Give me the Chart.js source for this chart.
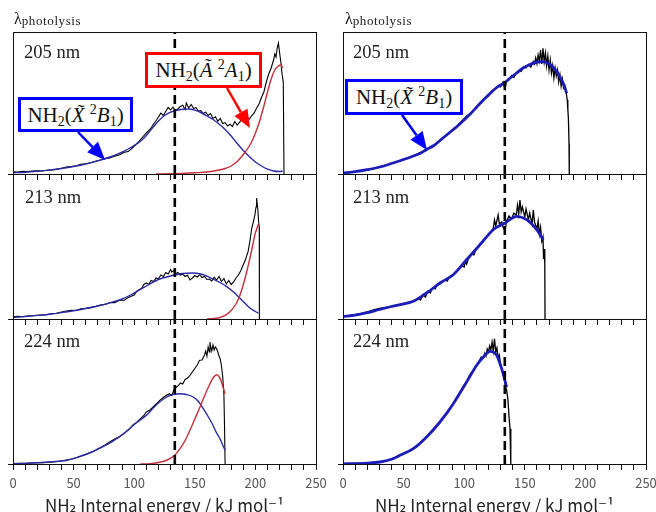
<!DOCTYPE html>
<html>
<head>
<meta charset="utf-8">
<script src="https://cdn.jsdelivr.net/npm/chart.js@4.4.1/dist/chart.umd.min.js"></script>
<style>
  html, body { margin: 0; padding: 0; background: #fff; }
  #page { position: relative; width: 656px; height: 512px; overflow: hidden; }
  canvas { position: absolute; }
  .lam { position: absolute; font-family: "Liberation Serif", serif; font-size: 16px; line-height: 20px; color: #222; }
  .lam span { font-size: 13px; letter-spacing: 0.6px; vertical-align: -1px; }
  .wl { position: absolute; font-family: "Liberation Serif", serif; font-size: 18.5px; line-height: 18.5px; color: #222; }
  .box { position: absolute; box-sizing: border-box; background: #fff; border: 3px solid; font-family: "Liberation Serif", serif;
         font-size: 21px; line-height: 26px; color: #111; text-align: center; white-space: nowrap; padding-top: 2px; }
  .box .lo, .box .hi { font-size: 14px; position: relative; vertical-align: baseline; }
  .box .lo { top: 4px; }
  .box .hi { top: -8px; }
</style>
</head>
<body>
<div id="page">
  <canvas id="c0" width="330" height="152" style="left:0;top:30px"></canvas>
  <canvas id="c1" width="330" height="155" style="left:0;top:172px"></canvas>
  <canvas id="c2" width="330" height="195" style="left:0;top:317px"></canvas>
  <canvas id="c3" width="326" height="152" style="left:330px;top:30px"></canvas>
  <canvas id="c4" width="326" height="155" style="left:330px;top:172px"></canvas>
  <canvas id="c5" width="326" height="195" style="left:330px;top:317px"></canvas>

  <div class="lam" style="left:14px;top:9px">λ<span>photolysis</span></div>
  <div class="lam" style="left:345px;top:9px">λ<span>photolysis</span></div>

  <div class="wl" id="w0" style="left:24px;top:43px"></div>
  <div class="wl" id="w1" style="left:25px;top:188px"></div>
  <div class="wl" id="w2" style="left:24px;top:332px"></div>
  <div class="wl" id="w3" style="left:353px;top:43px"></div>
  <div class="wl" id="w4" style="left:353px;top:188px"></div>
  <div class="wl" id="w5" style="left:353px;top:332px"></div>

  <div class="box" style="left:18px;top:97px;width:115px;height:35px;border-color:#0000ff">NH<span class="lo">2</span>(<i>X&#771;</i>&nbsp;<span class="hi">2</span><i>B</i><span class="lo">1</span>)</div>
  <div class="box" style="left:145px;top:52px;width:117px;height:36px;border-color:#ff0000">NH<span class="lo">2</span>(<i>A&#771;</i>&nbsp;<span class="hi">2</span><i>A</i><span class="lo">1</span>)</div>
  <div class="box" style="left:345px;top:79px;width:118px;height:36px;border-color:#0000ff">NH<span class="lo">2</span>(<i>X&#771;</i>&nbsp;<span class="hi">2</span><i>B</i><span class="lo">1</span>)</div>
</div>
<script>
// photolysis wavelengths, one row each
const wavelengths = ['205 nm', '213 nm', '224 nm'];
// threshold energy (dashed line), kJ/mol
const thresholdEnergy = 133.5;
// x axis
const energyMin = 0, energyMax = 250, energyStep = 10, energyLabelStep = 50;
const axisTitle = 'NH₂ Internal energy / kJ mol⁻¹';
// intensity range per row (arbitrary units)
const intensityMax = [142, 145, 145];

// ---- left column: observed distribution + X(2B1) and A(2A1) components ----
const leftObs205 = [[0,2.3],[4,2.0],[8,2.6],[12,2.4],[16,3.0],[20,3.2],[24,3.0],[28,3.8],[32,4.1],[36,4.6],[40,5.8],[44,7.0],
  [48,7.4],[52,8.3],[56,9.6],[60,10.2],[64,11.3],[68,12.8],[72,14.0],[76,15.4],[80,16.0],[84,17.9],[88,19.3],[92,21.8],[95,22.4],
  [98,25.5],[101,29.0],[104,32.6],[107,37.0],[110,41.0],[113,44.5],[116,50.0],[118,53.2],[120,57.0],[122,60.8],[124,58.5],
  [126,62.5],[128,66.5],[130,64.0],[132,66.8],[134,63.5],[136,65.0],[138,67.5],[140,68.8],[142,64.5],[143,71.0],[145,66.0],
  [147,69.5],[149,65.5],[151,66.4],[153,63.0],[155,63.5],[157,60.5],[159,61.8],[161,58.5],[163,60.4],[165,55.5],[167,57.2],
  [169,52.8],[171,55.5],[173,50.5],[175,51.4],[177,48.0],[179,49.8],[181,47.5],[183,52.5],[185,49.0],[187,51.8],[189,55.0],
  [191,52.0],[193,56.5],[195,55.0],[197,58.5],[199,61.0],[201,66.0],[203,70.0],[205,76.5],[207,82.0],[209,92.0],[211,100.0],
  [213,106.0],[214,110.0],[215,114.0],[216,120.0],[217,117.0],[218,126.0],[219,131.0],[220,121.0],[221,112.0],[222,100.0],
  [223,92.0],[223.6,0]];
const leftX205 = [[0,1.2],[10,1.8],[20,2.7],[30,3.9],[40,5.5],[50,7.5],[60,10.0],[70,13.2],[80,17.0],[90,21.8],[100,28.5],
  [105,32.5],[110,38.5],[115,46.0],[120,53.0],[125,58.5],[130,61.8],[135,63.8],[140,64.8],[145,65.0],[150,63.8],[155,61.5],
  [160,58.0],[165,54.5],[170,50.0],[175,44.5],[180,38.0],[185,30.5],[190,23.5],[195,17.5],[200,12.0],[205,8.0],[210,4.8],
  [215,3.0],[220,2.5],[222.5,3.0]];
const leftA205 = [[118,0],[130,0.3],[140,0.6],[150,1.2],[160,2.0],[170,4.0],[175,5.5],[180,8.0],[185,12.5],[190,19.5],
  [195,28.0],[198,35.0],[201,44.0],[204,55.0],[207,68.0],[210,82.0],[213,95.0],[216,104.0],[219,108.0],[221,109.0],[222.5,106.0]];

const leftObs213 = [[0,2.3],[4,2.6],[8,2.2],[12,3.0],[16,3.3],[20,3.6],[24,4.0],[28,4.2],[32,5.5],[36,5.8],[40,7.0],[44,8.0],
  [48,8.6],[52,8.5],[56,10.2],[60,10.6],[64,11.4],[68,12.5],[72,14.0],[76,14.6],[80,16.5],[84,16.4],[88,19.0],[92,18.8],
  [94,20.7],[97,22.5],[100,24.0],[102,27.5],[104,29.3],[106,30.5],[108,34.5],[110,36.0],[112,34.8],[114,38.5],[116,37.5],
  [118,41.0],[120,40.2],[122,44.0],[124,42.5],[126,46.5],[128,45.0],[130,49.5],[131,47.0],[133,48.5],[134,45.0],[136,46.5],
  [138,44.0],[140,44.8],[142,42.5],[144,43.8],[146,39.0],[148,41.0],[150,43.5],[152,42.0],[154,44.3],[156,41.5],[158,42.5],
  [160,39.5],[162,40.0],[164,38.0],[166,41.8],[168,39.0],[170,42.7],[172,37.5],[174,40.5],[176,35.0],[178,38.5],[180,34.5],
  [182,37.0],[184,41.0],[186,44.0],[188,48.5],[190,54.3],[192,60.0],[194,67.7],[195.5,78.0],[197,91.0],[198.5,98.0],
  [199.6,104.3],[200.5,112.0],[201,121.0],[202,110.0],[202.6,97.7],[203.2,92.0],[203.3,0]];
const leftX213 = [[0,1.5],[10,2.5],[20,3.6],[30,4.8],[40,6.4],[50,8.3],[60,10.5],[70,13.0],[80,16.2],[90,20.0],[97,24.0],
  [105,29.5],[113,35.0],[120,39.5],[130,43.0],[140,45.5],[148,46.0],[155,45.0],[162,41.7],[170,37.0],[176,32.7],[182,27.0],
  [187,21.0],[192,15.0],[196,10.5],[200,7.5],[202.5,6.0]];
const leftA213 = [[160,0],[168,0.8],[172,2.0],[176,4.3],[180,8.5],[184,15.0],[187,23.0],[190,34.3],[193,48.0],[195.5,61.0],
  [197.5,72.0],[199.6,84.3],[201,89.5],[202.4,94.3],[203,95.0]];

const leftObs224 = [[0,0.5],[5,0.6],[10,0.8],[15,1.0],[20,1.2],[25,1.4],[30,1.8],[35,2.3],[40,3.0],[44,4.0],[48,5.0],[52,6.2],
  [56,7.8],[60,9.8],[64,11.6],[68,13.8],[72,16.0],[76,19.0],[80,22.3],[84,25.0],[88,27.5],[92,31.0],[96,35.0],[99,39.0],
  [102,41.5],[105,45.0],[108,48.5],[110,52.0],[113,54.0],[116,57.5],[119,61.0],[121,63.7],[124,66.5],[127,69.0],[129,70.3],
  [131,68.5],[133,75.0],[135,77.0],[137,79.0],[138,81.0],[140,80.0],[142,84.5],[144,86.0],[146,88.7],[148,92.0],[150,95.5],
  [152,99.0],[154,103.7],[156,104.0],[158,109.0],[159,113.0],[160,108.0],[161,117.0],[162,112.0],[162.5,122.0],[163,118.0],
  [164,113.0],[165,119.0],[166,114.0],[167,117.0],[168,115.3],[169,112.0],[170,108.0],[171,105.0],[172,98.0],[173,88.0],
  [174,70.0],[174.5,40.0],[175,0]];
const leftX224 = [[0,0.3],[10,0.6],[20,1.2],[30,2.0],[40,3.0],[44,3.5],[50,5.3],[55,7.5],[61,10.0],[65,12.0],[70,15.0],
  [75,18.0],[80,21.0],[85,25.0],[88.3,27.5],[95,34.0],[100,39.5],[105,44.0],[110.3,49.0],[115,55.0],[120,61.0],[126.8,67.0],
  [132,69.5],[137.8,70.3],[143,69.5],[148.8,67.0],[153,62.5],[157,55.3],[161,47.5],[165,38.7],[168,31.0],[170.8,25.3],
  [173,19.0],[175,13.7]];
const leftA224 = [[105,0],[113,0.3],[120,1.5],[125,3.0],[129.5,5.3],[134,9.5],[137.8,15.3],[142,23.5],[146,33.7],[150,45.0],
  [154.3,57.0],[158,68.0],[162.5,80.3],[165,86.0],[168,89.3],[170,87.5],[172,82.0],[173.5,76.0],[175,70.3]];

// ---- right column: observed distribution + single X(2B1) fit ----
const rightObs205 = [[0,1.3],[4,1.5],[8,2.0],[12,2.6],[16,3.3],[20,4.0],[24,4.8],[28,6.0],[30.5,7.3],[34,8.3],[38,9.5],
  [42,11.5],[46,13.0],[50,14.8],[54,16.0],[58,18.0],[62,20.5],[66,22.8],[69,24.7],[72,27.0],[75,29.0],[78,31.0],[81,34.5],
  [84,37.5],[87,40.0],[90,43.5],[93,46.0],[96,50.5],[99,54.0],[102,58.0],[105,60.5],[108,64.0],[111,68.5],[114,71.0],
  [117,75.5],[120,78.0],[123,83.5],[126,85.0],[128,88.0],[130,87.0],[132,92.0],[133.7,85.0],[135,93.5],[137,94.0],[139,98.5],
  [141,96.5],[143,101.0],[145,103.5],[147,102.5],[149,107.3],[151,106.0],[153,109.5],[155,107.0],[157,112.5],[158,110.0],
  [159,116.0],[160,110.5],[161,119.0],[162,113.0],[163,124.0],[164,110.0],[165,125.7],[166,112.0],[167,121.0],[168,108.0],
  [169,118.0],[170,104.0],[171,114.0],[172,101.0],[173,108.5],[174,96.0],[175,106.0],[176,98.0],[177,104.0],[178,92.0],
  [179,99.0],[180,88.0],[181,95.0],[182,86.0],[183,88.0],[184,83.0],[185,74.0],[185.5,65.0],[186,55.0],[186.5,30.0],[186.7,0]];
const rightX205 = [[0,1.0],[10,2.3],[20,4.3],[30.5,7.0],[40,10.5],[50,14.5],[58,18.0],[63.5,20.5],[69,24.5],[75,28.5],
  [80,33.5],[85.5,39.0],[90,43.5],[95,48.5],[99.3,53.5],[105,60.0],[110,66.5],[113,70.5],[120,79.0],[126.8,86.5],[133,91.0],
  [138,96.0],[143.3,101.0],[148,105.5],[154.3,109.5],[160,112.0],[165,112.3],[170.8,109.5],[175,104.5],[179,97.3],[182,90.0],
  [184.6,80.7]];

const rightObs213 = [[0,3.0],[5,3.6],[10,4.4],[15,5.4],[20,7.0],[25,9.0],[30,10.5],[35,11.5],[40,12.6],[44,13.5],[47,14.0],
  [50,14.8],[54,16.5],[58,17.3],[62,21.0],[64,19.0],[66,24.5],[68,22.0],[70,28.0],[72,26.0],[74,31.0],[76,30.0],[78,34.5],
  [80,35.0],[82,37.0],[84,39.5],[86,38.0],[88,42.5],[90,43.5],[92,45.0],[94,48.0],[96,50.5],[98,53.0],[100,52.0],[101,58.5],
  [102,55.0],[104,62.0],[106,65.0],[108,64.0],[110,70.5],[112,73.0],[114,75.5],[116,78.0],[118,81.0],[120,85.0],[122,87.0],
  [124,91.0],[125,99.0],[126,93.0],[128,104.0],[129,95.0],[131,97.0],[132,92.0],[133.7,88.0],[135,98.0],[137,103.0],
  [139,100.0],[141,106.0],[143,104.0],[144,114.0],[145,105.0],[146,119.0],[147,107.0],[148,112.0],[150,102.0],[151,110.0],
  [153,99.0],[154,106.0],[156,95.0],[157,109.0],[158,97.0],[160,90.0],[161,98.0],[162,85.0],[163,92.0],[164,78.0],[165,82.0],
  [165.5,60.0],[166,70.0],[166.5,55.0],[166.7,0]];
const rightX213 = [[0,2.5],[10,3.8],[20,6.3],[30,9.5],[40,12.5],[47,14.3],[58,17.7],[69,26.0],[80,36.0],[91,44.3],[102,59.3],
  [113,74.3],[124,89.3],[133.7,96.0],[143.3,102.7],[151.5,99.3],[159.8,89.3],[165.3,79.3]];

const rightObs224 = [[0,0.3],[5,0.4],[10,0.5],[15,0.7],[20,0.9],[25,1.1],[30.5,1.8],[35,3.0],[40,4.8],[44,6.8],[47,8.7],
  [50,10.0],[54,12.8],[58,15.3],[62,18.5],[66,23.5],[69,27.0],[72,31.5],[76,36.5],[80,42.0],[84,48.0],[87,52.0],[89,57.5],
  [91,60.3],[94,67.0],[97,73.0],[99,77.5],[102,82.0],[104,88.0],[106,91.5],[108,94.0],[110,98.7],[112,102.0],[114,107.0],
  [116,106.0],[117,111.0],[118,108.0],[119,115.0],[120,112.0],[121,118.0],[122,114.0],[123,122.0],[124,113.0],[125,125.3],
  [126,112.0],[127,116.0],[128,106.0],[129,109.0],[130,99.0],[131,95.0],[132,90.0],[133,86.0],[134,78.0],[135,74.0],
  [136,65.0],[136.4,58.7],[137,47.0],[137.8,35.3],[138.3,20.0],[138.6,0]];
const rightX224 = [[0,0.2],[10,0.4],[20,0.8],[30.5,2.0],[40,4.8],[47,8.7],[58,15.3],[69,27.0],[80,42.0],[91,60.3],[102,82.0],
  [110.3,98.7],[115.8,107.0],[121.3,112.7],[126.8,108.7],[130.9,95.3],[135,77.0]];

// label arrows: [energy, intensity] from -> to
const arrowX205L = { from: [53.6, 42], to: [76, 14], color: '#0000ff' };
const arrowA205L = { from: [176.6, 86], to: [195.5, 46], color: '#ff0000' };
const arrowX205R = { from: [48.7, 59], to: [69.3, 24], color: '#0000ff' };

const gothic = '"Noto Sans CJK JP", "DejaVu Sans", sans-serif';

const framePlugin = {
  id: 'frame',
  afterDraw(chart) {
    const { ctx, chartArea: a } = chart;
    ctx.save();
    ctx.strokeStyle = '#111';
    ctx.lineWidth = 1;
    ctx.strokeRect(Math.round(a.left) + 0.5, Math.round(a.top) + 0.5,
      Math.round(a.right - a.left), Math.round(a.bottom - a.top));
    ctx.restore();
  }
};

function arrowPlugin(list) {
  return {
    id: 'arrows',
    afterDatasetsDraw(chart) {
      const { ctx } = chart;
      const xs = chart.scales.x, ys = chart.scales.y;
      list.forEach(a => {
        const x1 = xs.getPixelForValue(a.from[0]), y1 = ys.getPixelForValue(a.from[1]);
        const x2 = xs.getPixelForValue(a.to[0]), y2 = ys.getPixelForValue(a.to[1]);
        const ang = Math.atan2(y2 - y1, x2 - x1);
        const len = 18, half = 7.5;
        const bx = x2 - len * Math.cos(ang), by = y2 - len * Math.sin(ang);
        ctx.save();
        ctx.strokeStyle = a.color;
        ctx.fillStyle = a.color;
        ctx.lineWidth = 2.5;
        ctx.beginPath();
        ctx.moveTo(x1, y1);
        ctx.lineTo(bx, by);
        ctx.stroke();
        ctx.beginPath();
        ctx.moveTo(x2, y2);
        ctx.lineTo(bx + half * Math.sin(ang), by - half * Math.cos(ang));
        ctx.lineTo(bx - half * Math.sin(ang), by + half * Math.cos(ang));
        ctx.closePath();
        ctx.fill();
        ctx.restore();
      });
    }
  };
}

function curve(points, color, width, smooth) {
  return {
    data: points.map(p => ({ x: p[0], y: p[1] })),
    borderColor: color,
    borderWidth: width,
    pointRadius: 0,
    fill: false,
    tension: smooth ? 0.4 : 0,
    cubicInterpolationMode: smooth ? 'monotone' : 'default'
  };
}

function drawPanel(id, row, col, curves, arrows) {
  const bottom = row === 2;
  const yMax = intensityMax[row];
  const axisHeight = bottom ? 48 : 8;
  const dashed = {
    data: [{ x: thresholdEnergy, y: 0 }, { x: thresholdEnergy, y: yMax }],
    borderColor: '#000', borderWidth: 2.6, borderDash: [9, 5], pointRadius: 0, fill: false
  };
  new Chart(document.getElementById(id), {
    type: 'line',
    data: { datasets: [dashed, ...curves] },
    options: {
      responsive: false,
      animation: false,
      events: [],
      layout: { padding: { left: 0, right: col === 0 ? 14 : 10, top: 2, bottom: 0 } },
      plugins: { legend: { display: false }, tooltip: { enabled: false } },
      scales: {
        x: {
          type: 'linear', min: energyMin, max: energyMax,
          border: { display: false },
          grid: { drawOnChartArea: false, drawTicks: true, tickLength: 6, tickColor: '#111', tickWidth: 1 },
          ticks: {
            display: bottom, stepSize: energyStep, autoSkip: false, maxRotation: 0, padding: 5,
            color: '#555', font: { family: gothic, size: 13 },
            callback: v => (v % energyLabelStep === 0 ? String(v) : '')
          },
          title: {
            display: bottom, text: axisTitle, color: '#222',
            font: { family: gothic, size: 17, lineHeight: 0.8 }, padding: { top: 0, bottom: 0 }
          },
          afterFit(s) { s.height = axisHeight; s.paddingLeft = 0; s.paddingRight = 0; }
        },
        y: {
          min: 0, max: yMax,
          border: { display: false },
          grid: { drawOnChartArea: false, drawTicks: true, tickLength: 5, tickColor: '#111' },
          ticks: { display: false },
          afterBuildTicks(s) { s.ticks = [{ value: 0 }]; },
          afterFit(s) { s.width = 13; }
        }
      }
    },
    plugins: [framePlugin, arrowPlugin(arrows)]
  });
}

const black = '#000', navy = '#2a2aa6', red = '#c4303a', blueThick = '#1c1cb8';

drawPanel('c0', 0, 0, [curve(leftA205, red, 1.4, true), curve(leftX205, navy, 1.4, true), curve(leftObs205, black, 1.1, false)], [arrowX205L, arrowA205L]);
drawPanel('c1', 1, 0, [curve(leftA213, red, 1.4, true), curve(leftX213, navy, 1.4, true), curve(leftObs213, black, 1.1, false)], []);
drawPanel('c2', 2, 0, [curve(leftA224, red, 1.4, true), curve(leftX224, navy, 1.4, true), curve(leftObs224, black, 1.1, false)], []);
drawPanel('c3', 0, 1, [curve(rightX205, blueThick, 2.8, true), curve(rightObs205, black, 1.3, false)], [arrowX205R]);
drawPanel('c4', 1, 1, [curve(rightX213, blueThick, 2.8, true), curve(rightObs213, black, 1.3, false)], []);
drawPanel('c5', 2, 1, [curve(rightX224, blueThick, 2.8, true), curve(rightObs224, black, 1.3, false)], []);

['w0', 'w1', 'w2', 'w3', 'w4', 'w5'].forEach((id, i) => {
  document.getElementById(id).textContent = wavelengths[i % 3];
});
</script>
</body>
</html>
